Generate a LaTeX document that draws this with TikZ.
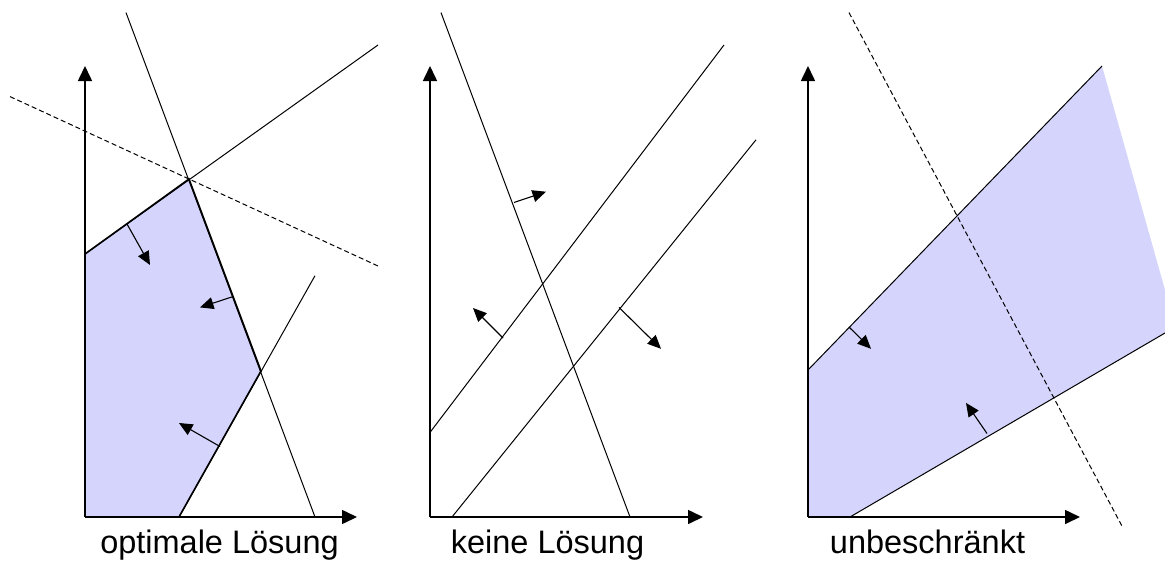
\documentclass[tikz,border=0pt]{standalone}
\usepackage{fontspec}
\setmainfont{Liberation Sans}
\usetikzlibrary{arrows.meta}
\definecolor{feas}{RGB}{212,212,252}
\tikzset{
  axis/.style={line width=1.6pt,-{Triangle[length=15pt,width=14pt]}},
  cline/.style={line width=1pt},
  bound/.style={line width=1.6pt},
  objline/.style={line width=1pt,dash pattern=on 5pt off 3pt},
  dirarrow/.style={line width=1.1pt,-{Triangle[length=13.5pt,width=12pt]}},
  lbl/.style={anchor=base,inner sep=0pt,font=\fontsize{32.5}{39}\selectfont}
}
\begin{document}
\begin{tikzpicture}[x=1pt,y=-1pt]
\useasboundingbox (0,0) rectangle (1165,565);
% ---------- panel 1: optimale Loesung ----------
\coordinate (o1) at (85,517);
\coordinate (y1) at (85,66);
\coordinate (x1) at (357,517);
\coordinate (a1) at (85,254);
\coordinate (v1) at (189,179);
\coordinate (w1) at (261,371);
\coordinate (b1) at (179,517);
\fill[feas] (o1) -- (a1) -- (v1) -- (w1) -- (b1) -- cycle;
\draw[cline] (126,12.6) coordinate (s1a) -- (315,517) coordinate (s1b);
\draw[cline] (a1) -- (378,45) coordinate (r1b);
\draw[cline] (b1) -- (315,275.7) coordinate (f1b);
\draw[objline] (10,96.6) coordinate (d1a) -- (378,266) coordinate (d1b);
\draw[bound] (a1) -- (v1) -- (w1) -- (b1);
\draw[axis] (o1) -- (y1);
\draw[axis] (o1) -- (x1);
\draw[dirarrow] (127,224) coordinate (p1) -- (150,265) coordinate (q1);
\draw[dirarrow] (233,296.6) coordinate (p2) -- (200,307.4) coordinate (q2);
\draw[dirarrow] (220,446.5) coordinate (p3) -- (179,423) coordinate (q3);
\node[lbl] (l1) at (219.5,553) {optimale Lösung};
% ---------- panel 2: keine Loesung ----------
\coordinate (o2) at (430,517);
\coordinate (y2) at (430,66);
\coordinate (x2) at (703,517);
\draw[cline] (441,12.6) coordinate (s2a) -- (630,517) coordinate (s2b);
\draw[cline] (430,432.4) coordinate (u2a) -- (724,45) coordinate (u2b);
\draw[cline] (452,517) coordinate (m2a) -- (756,139.8) coordinate (m2b);
\draw[axis] (o2) -- (y2);
\draw[axis] (o2) -- (x2);
\draw[dirarrow] (514,202.5) coordinate (p4) -- (546,191.7) coordinate (q4);
\draw[dirarrow] (503,338) coordinate (p5) -- (473,308) coordinate (q5);
\draw[dirarrow] (619,307.4) coordinate (p6) -- (661,348.8) coordinate (q6);
\node[lbl] (l2) at (547.5,553) {keine Lösung};
% ---------- panel 3: unbeschraenkt ----------
\coordinate (o3) at (808,517);
\coordinate (y3) at (808,66);
\coordinate (x3) at (1080,517);
\coordinate (a3) at (808,370);
\coordinate (t3) at (1102,66);
\coordinate (e3) at (1165,290);
\coordinate (g3) at (1165,333);
\coordinate (b3) at (850,517);
\fill[feas] (o3) -- (a3) -- (t3) -- (e3) -- (g3) -- (b3) -- cycle;
\draw[cline] (a3) -- (t3);
\draw[cline] (b3) -- (g3);
\draw[objline] (849,12.6) coordinate (d3a) -- (1123,528) coordinate (d3b);
\draw[axis] (o3) -- (y3);
\draw[axis] (o3) -- (x3);
\draw[dirarrow] (849,327) coordinate (p7) -- (871,348.8) coordinate (q7);
\draw[dirarrow] (987,433.5) coordinate (p8) -- (966,402.9) coordinate (q8);
\node[lbl] (l3) at (927.5,553) {unbeschränkt};
\end{tikzpicture}
\end{document}
